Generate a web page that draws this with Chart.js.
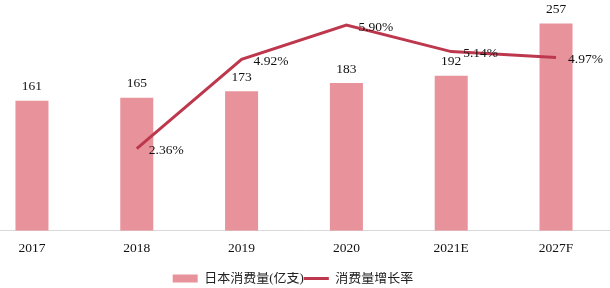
<!DOCTYPE html>
<html>
<head>
<meta charset="utf-8">
<script src="https://cdn.jsdelivr.net/npm/chart.js@4/dist/chart.umd.min.js"></script>
<style>
html,body{margin:0;padding:0;background:#fff;}
#wrap{width:610px;height:288px;position:relative;}
</style>
</head>
<body>
<div id="wrap"><canvas id="c" width="610" height="288"></canvas></div>
<script>
const categories = ['2017', '2018', '2019', '2020', '2021E', '2027F'];
const consumption = [161, 165, 173, 183, 192, 257];
const growthRate = [null, 2.36, 4.92, 5.90, 5.14, 4.97];
const seriesNames = ['日本消费量(亿支)', '消费量增长率'];

const BAR_COLOR = '#E8939B';
const LINE_COLOR = '#BE384D';
const SERIF = '"Liberation Serif", "Times New Roman", serif';

const labelPlugin = {
  id: 'valueLabels',
  afterLayout(chart) {
    if (chart.legend) {
      chart.legend.left -= 12;
      chart.legend.right -= 12;
      chart.legend.top += 7;
      chart.legend.bottom += 7;
    }
  },
  afterDatasetsDraw(chart) {
    const ctx = chart.ctx;
    ctx.save();
    ctx.fillStyle = '#111';
    ctx.font = '13.5px ' + SERIF;
    const barMeta = chart.getDatasetMeta(0);
    barMeta.data.forEach((el, i) => {
      ctx.textAlign = 'center';
      ctx.textBaseline = 'middle';
      ctx.fillText(String(consumption[i]), el.x, el.y - 14);
    });
    const lineMeta = chart.getDatasetMeta(1);
    lineMeta.data.forEach((el, i) => {
      if (growthRate[i] === null) return;
      ctx.textAlign = 'left';
      ctx.textBaseline = 'middle';
      ctx.fillText(growthRate[i].toFixed(2) + '%', el.x + 12, el.y + 2);
    });
    ctx.restore();
  }
};

new Chart(document.getElementById('c'), {
  data: {
    datasets: [
      {
        type: 'bar',
        label: seriesNames[0],
        data: consumption.map((v, i) => ({x: i, y: v})),
        backgroundColor: BAR_COLOR,
        borderWidth: 0,
        barPercentage: 0.315,
        categoryPercentage: 1,
        yAxisID: 'y',
        order: 1
      },
      {
        type: 'line',
        label: seriesNames[1],
        data: growthRate.map((v, i) => ({x: i, y: v})),
        borderColor: LINE_COLOR,
        backgroundColor: LINE_COLOR,
        borderWidth: 3,
        pointRadius: 0,
        tension: 0,
        spanGaps: false,
        yAxisID: 'y2',
        order: 0
      }
    ]
  },
  options: {
    responsive: false,
    animation: false,
    devicePixelRatio: 1,
    layout: {padding: {left: 0, right: 0, top: 0, bottom: 0}},
    scales: {
      x: {
        type: 'linear',
        offset: false,
        min: -0.305,
        max: 5.515,
        grid: {display: false, offset: false},
        border: {display: true, color: '#D9D9D9', width: 1},
        afterBuildTicks(axis) {
          axis.ticks = categories.map((_, i) => ({value: i}));
        },
        afterFit(axis) {
          axis.height += 6;
        },
        ticks: {
          autoSkip: false,
          maxRotation: 0,
          padding: 2,
          color: '#111',
          font: {family: SERIF, size: 13.5},
          callback: (v) => categories[v] !== undefined ? categories[v] : ''
        }
      },
      y: {display: false, min: 0, max: 286},
      y2: {display: false, min: 0, max: 6.62, position: 'right'}
    },
    plugins: {
      tooltip: {enabled: false},
      legend: {
        position: 'bottom',
        labels: {
          usePointStyle: true,
          pointStyleWidth: 25,
          boxHeight: 8,
          padding: 0,
          color: '#222',
          font: {family: '"Liberation Serif", "Noto Sans CJK SC", serif', size: 13},
          sort: (a, b) => a.datasetIndex - b.datasetIndex,
          generateLabels(chart) {
            const items = Chart.defaults.plugins.legend.labels.generateLabels(chart);
            items.forEach(it => {
              if (it.datasetIndex === 0) { it.pointStyle = 'rect'; it.lineWidth = 0; }
              else { it.pointStyle = 'line'; it.lineWidth = 3; it.strokeStyle = LINE_COLOR; }
            });
            return items;
          }
        }
      }
    }
  },
  plugins: [labelPlugin]
});
</script>
</body>
</html>
